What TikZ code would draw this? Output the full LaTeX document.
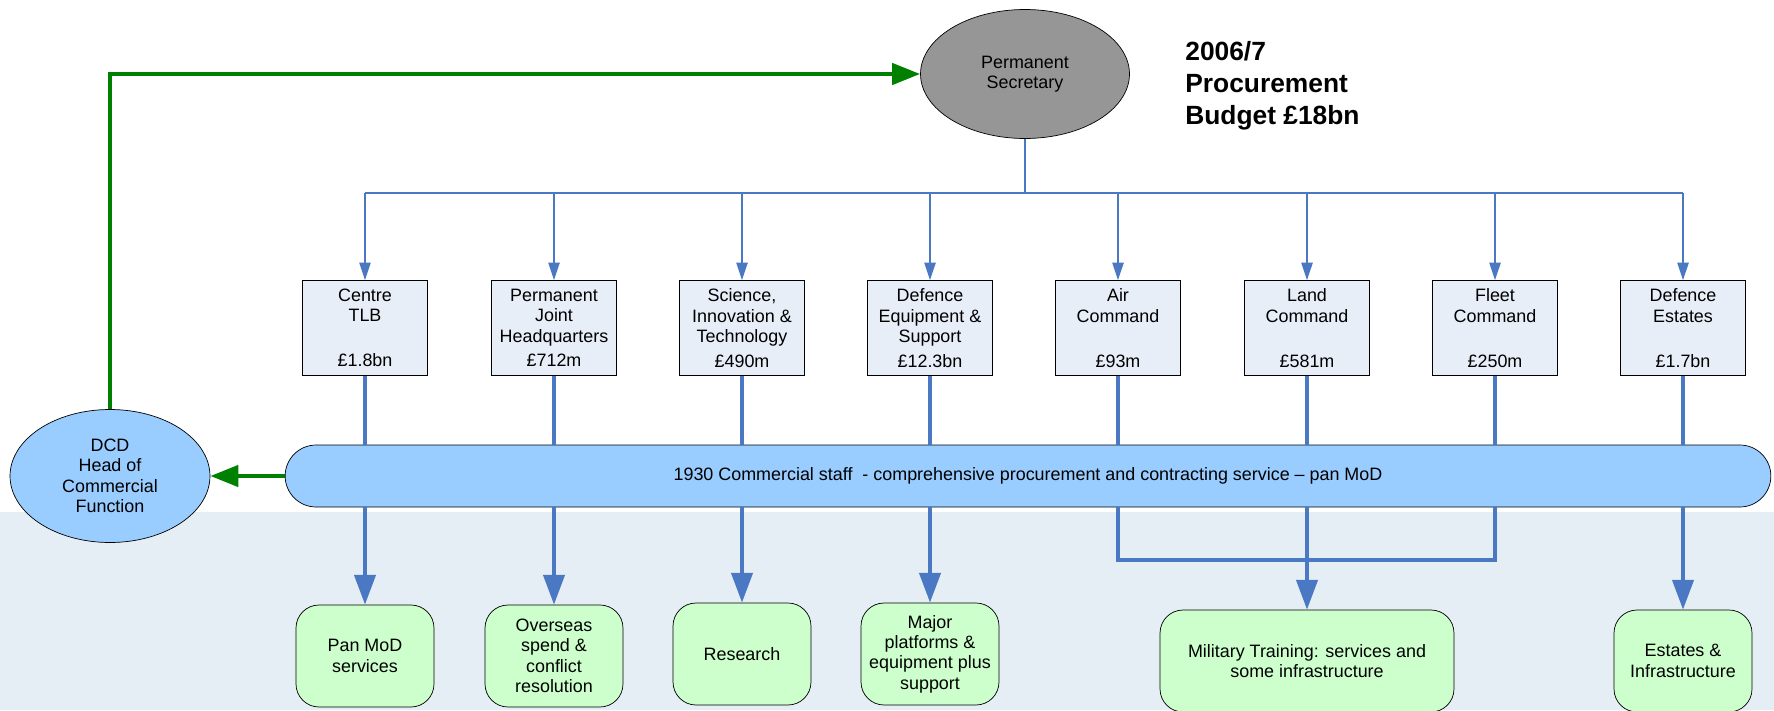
\documentclass[tikz,border=0pt]{standalone}
\usepackage{fontspec}
\setmainfont{Liberation Sans}
\usetikzlibrary{arrows.meta, shapes.geometric, shapes.misc}

\definecolor{linkblue}{HTML}{4A78C2}
\definecolor{tlbfill}{HTML}{E8EEF8}
\definecolor{barfill}{HTML}{99CCFF}
\definecolor{outfill}{HTML}{CCFFCC}
\definecolor{bandfill}{HTML}{E6EEF5}
\definecolor{psfill}{HTML}{969696}
\definecolor{ctrlgreen}{HTML}{008000}

\begin{document}
\begin{tikzpicture}[x=0.02cm, y=-0.02cm,
    every node/.style={font=\fontsize{10.2}{11.6}\selectfont, align=center, inner sep=0pt},
    tlb/.style={rectangle, draw, thin, fill=tlbfill, minimum width=2.5cm, minimum height=1.9cm},
    outcome/.style={rectangle, draw, thin, fill=outfill, rounded corners=0.46cm, minimum width=2.76cm, minimum height=2.04cm},
    head/.style={ellipse, draw, thin, minimum width=4.18cm, minimum height=2.58cm},
    thinlink/.style={linkblue, line width=0.7pt, -{Triangle[length=10pt, width=6.5pt]}},
    fat/.style={linkblue, line width=2.3pt},
    fatlink/.style={fat, -{Triangle[length=17pt, width=12pt]}},
    ctrl/.style={ctrlgreen, line width=2.5pt, -{Triangle[length=16pt, width=12pt]}}]
    \useasboundingbox (0,0) rectangle (1774,710);
    \fill[bandfill] (0,512) rectangle (1774,710);

    % Nodes
    \node[head, fill=psfill] at (1025, 74) (psec) {Permanent\\Secretary};
    \node[anchor=north west, align=left, font=\bfseries\fontsize{15}{18.3}\selectfont] at (1185, 41) (budget) {2006/7\\Procurement\\Budget £18bn};

    \node[tlb] at (365, 328) (ctlb) {Centre\\TLB\\~\\[2.5pt]£1.8bn};
    \node[tlb] at (554, 328) (pjhq) {Permanent\\Joint\\Headquarters\\[2.5pt]£712m};
    \node[tlb] at (742, 328) (sit) {Science,\\Innovation \&\\Technology\\[2.5pt]£490m};
    \node[tlb] at (930, 328) (des) {Defence\\Equipment \&\\Support\\[2.5pt]£12.3bn};
    \node[tlb] at (1118, 328) (air) {Air\\Command\\~\\[2.5pt]£93m};
    \node[tlb] at (1307, 328) (land) {Land\\Command\\~\\[2.5pt]£581m};
    \node[tlb] at (1495, 328) (fleet) {Fleet\\Command\\~\\[2.5pt]£250m};
    \node[tlb] at (1683, 328) (estates) {Defence\\Estates\\~\\[2.5pt]£1.7bn};

    \node[rounded rectangle, draw, thin, fill=barfill, minimum width=29.72cm, minimum height=1.24cm] at (1028, 476) (bar) {1930 Commercial staff~ - comprehensive procurement and contracting service -- pan MoD};
    \node[head, fill=barfill, minimum width=4cm, minimum height=2.66cm] at (110, 476) (dcd) {DCD\\Head of\\Commercial\\Function};

    \node[outcome] at (365, 656) (panmod) {Pan MoD\\services};
    \node[outcome] at (554, 656) (overseas) {Overseas\\spend \&\\conflict\\resolution};
    \node[outcome] at (742, 654) (research) {Research};
    \node[outcome] at (930, 654) (platforms) {Major\\platforms \&\\equipment plus\\support};
    \node[outcome, minimum width=5.88cm] at (1307, 661) (training) {Military Training: services and\\some infrastructure};
    \node[outcome] at (1683, 661) (infra) {Estates \&\\Infrastructure};

    \coordinate (fork) at (1025, 193);
    \coordinate (merge) at (1307, 560);

    % Edges
    \draw[ctrl] (dcd.north) |- (psec.west);
    \draw[ctrl] (bar.west) -- (dcd.east);

    \draw[linkblue, line width=0.7pt] (psec) -- (fork);
    \draw[linkblue, line width=0.7pt] (fork -| ctlb) -- (fork -| estates);
    \foreach \n in {ctlb, pjhq, sit, des, air, land, fleet, estates} {
        \draw[thinlink] (fork -| \n) -- (\n);
        \draw[fat] (\n) -- (\n |- bar.north);
    }

    \draw[fatlink] (ctlb |- bar.south) -- (panmod);
    \draw[fatlink] (pjhq |- bar.south) -- (overseas);
    \draw[fatlink] (sit |- bar.south) -- (research);
    \draw[fatlink] (des |- bar.south) -- (platforms);
    \draw[fatlink] (land |- bar.south) -- (training);
    \draw[fatlink] (estates |- bar.south) -- (infra);
    \draw[fat] (air |- bar.south) |- (merge) -| (fleet |- bar.south);

\end{tikzpicture}
\end{document}
